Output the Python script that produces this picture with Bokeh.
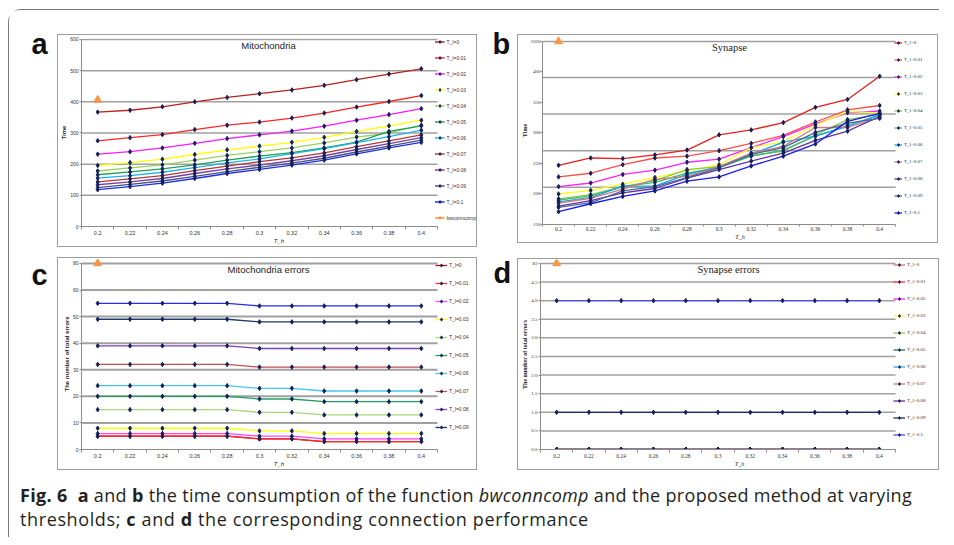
from bokeh.plotting import figure
from bokeh.models import (Legend, LegendItem, Label, FixedTicker, Range1d, Div, Spacer,
                          PrintfTickFormatter, InlineStyleSheet)
from bokeh.layouts import column, row
from bokeh.embed import file_html
from bokeh.resources import INLINE

# ---------------- data ----------------
th = [0.2, 0.22, 0.24, 0.26, 0.28, 0.3, 0.32, 0.34, 0.36, 0.38, 0.4]
th_labels = ["0.2", "0.22", "0.24", "0.26", "0.28", "0.3", "0.32", "0.34", "0.36", "0.38", "0.4"]
series_names = ["T_l=0", "T_l=0.01", "T_l=0.02", "T_l=0.03", "T_l=0.04", "T_l=0.05",
                "T_l=0.06", "T_l=0.07", "T_l=0.08", "T_l=0.09", "T_l=0.1"]

# (a) Mitochondria time
mito_time = [
    [367, 373, 384, 400, 414, 426, 438, 453, 471, 489, 506],
    [275, 285, 295, 311, 325, 335, 348, 364, 383, 401, 420],
    [232, 240, 252, 267, 282, 294, 306, 322, 341, 359, 378],
    [196, 205, 216, 231, 246, 258, 270, 286, 305, 323, 341],
    [178, 188, 198, 213, 228, 240, 252, 268, 287, 300, 325],
    [166, 175, 185, 198, 213, 226, 237, 252, 271, 305, 323],
    [155, 163, 174, 189, 204, 217, 234, 250, 269, 288, 309],
    [143, 153, 163, 179, 194, 208, 220, 236, 256, 275, 294],
    [134, 143, 154, 170, 185, 197, 211, 227, 247, 266, 285],
    [125, 135, 146, 161, 176, 190, 203, 219, 239, 258, 277],
    [118, 128, 139, 154, 170, 183, 197, 213, 233, 252, 270],
]
mito_bw_time = [406]

# (b) Synapse time
syn_time = [
    [247, 259, 258, 264, 272, 297, 305, 317, 342, 355, 393],
    [228, 234, 248, 259, 262, 271, 283, 296, 318, 338, 345],
    [212, 218, 232, 239, 252, 257, 276, 294, 315, 333, 336],
    [200, 206, 216, 227, 238, 248, 276, 286, 313, 335, 333],
    [192, 199, 212, 222, 240, 245, 263, 270, 297, 322, 331],
    [190, 197, 212, 219, 234, 243, 262, 272, 295, 312, 329],
    [187, 194, 213, 213, 232, 245, 265, 285, 295, 311, 330],
    [185, 193, 208, 224, 229, 245, 267, 278, 309, 309, 325],
    [180, 189, 202, 209, 226, 240, 254, 267, 288, 303, 327],
    [178, 186, 205, 212, 227, 243, 265, 276, 301, 316, 324],
    [171, 184, 196, 205, 221, 228, 246, 262, 282, 319, 332],
]
syn_bw_time = [1020]

# (c) Mitochondria errors
mito_err = [
    [5, 5, 5, 5, 5, 4, 4, 3, 3, 3, 3],
    [5, 5, 5, 5, 5, 4, 4, 3, 3, 3, 3],
    [6, 6, 6, 6, 6, 5, 5, 4, 4, 4, 4],
    [8, 8, 8, 8, 8, 7, 7, 6, 6, 6, 6],
    [15, 15, 15, 15, 15, 14, 14, 13, 13, 13, 13],
    [20, 20, 20, 20, 20, 19, 19, 18, 18, 18, 18],
    [24, 24, 24, 24, 24, 23, 23, 22, 22, 22, 22],
    [32, 32, 32, 32, 32, 31, 31, 31, 31, 31, 31],
    [39, 39, 39, 39, 39, 38, 38, 38, 38, 38, 38],
    [49, 49, 49, 49, 49, 48, 48, 48, 48, 48, 48],
    [55, 55, 55, 55, 55, 54, 54, 54, 54, 54, 54],
]
mito_bw_err = [80]

# (d) Synapse errors
syn_err = [
    [0] * 11, [0] * 11, [0] * 11, [0] * 11, [0] * 11, [0] * 11,
    [0] * 11, [0] * 11, [0] * 11,
    [1, 1, 1, 1, 1, 1, 1, 1, 1, 1, 1],
    [4, 4, 4, 4, 4, 4, 4, 4, 4, 4, 4],
]
syn_bw_err = [83]

# y-axis ticks (the top tick of b, c, d is a broken-axis label)
ticks_a = [0, 100, 200, 300, 400, 500, 600]
ticks_b = [150, 200, 250, 300, 350, 400, 450]
ticks_c = [0, 10, 20, 30, 40, 50, 60, 70]
ticks_d = [0, 0.5, 1, 1.5, 2, 2.5, 3, 3.5, 4, 4.5, 5]

# ---------------- styles ----------------
colors_a = ["#b8221c", "#ff2626", "#ff1aff", "#ffff00", "#9ccf5c", "#1fa05a",
            "#1cb4ea", "#b23a36", "#7a3fa6", "#44577a", "#1f2fe6"]
colors_b = ["#e8201e", "#ff4d4d", "#ff22ff", "#ffff14", "#92c842", "#38b878",
            "#12a8e8", "#d07a7a", "#6a2fa0", "#4a6a9a", "#1a1aff"]
colors_c = ["#b01010", "#ff2a2a", "#ff44ff", "#ffff00", "#a8d878", "#20a060",
            "#44c8f2", "#c05050", "#8040b0", "#20386a", "#2a2ae8"]
colors_d = ["#e07070", "#ff2a2a", "#ff22ff", "#ffff14", "#92c842", "#207a4a",
            "#22b0ea", "#d07a7a", "#6a2fa0", "#1c2f6a", "#4050f0"]
MARK = "#13215a"
BW = "#f79646"
GRID = "#a0a0a0"
AX = "#8c8c8c"
SANS = "Liberation Sans"
SERIF = "Liberation Serif"

x_lo, x_hi = th[0] - 0.01, th[-1] + 0.01
minor_x = [t - 0.01 for t in th] + [x_hi]

box_css = InlineStyleSheet(css=":host { border: 1px solid #9e9e9e; }")
frame_css = InlineStyleSheet(css=":host { border-top: 1px solid #7a7a7a; "
                                 "border-left: 1px solid #7a7a7a; border-top-left-radius: 13px; }")


def panel(width, height, mb, data_w, leg_w, data_h, top_pad, yr, yticks, yover, gticks,
          series, colors, n_leg, bw_vals, bw_leg, font, title, tsize, tx, leg_spacing,
          item_h, glyph_w, lab_w, leg_margin, ylabel, grid_w, xl_standoff, y_tick,
          yl_standoff, ya_standoff, x_minor_out=3, yfmt=None):
    # frame also holds the legend column (right) and a few px above the top tick
    x_end = x_hi + leg_w / data_w * (x_hi - x_lo)
    y_end = yr[1] + top_pad / data_h * (yr[1] - yr[0])
    p = figure(width=width, height=height, output_backend="svg", toolbar_location=None,
               x_range=Range1d(x_lo, x_end), y_range=Range1d(yr[0], y_end),
               min_border_left=mb[0], min_border_right=0,
               min_border_top=mb[1], min_border_bottom=mb[2])
    p.outline_line_color = None
    p.background_fill_color = "white"
    p.border_fill_color = "white"

    p.xaxis.ticker = FixedTicker(ticks=th, minor_ticks=minor_x)
    p.xaxis.bounds = (x_lo, x_hi)
    p.xaxis.major_label_overrides = {t: s for t, s in zip(th, th_labels)}
    p.xaxis.major_tick_out = 0
    p.xaxis.major_tick_in = 0
    p.xaxis.minor_tick_out = x_minor_out
    p.xaxis.minor_tick_in = 0
    p.yaxis.ticker = FixedTicker(ticks=yticks)
    p.yaxis.bounds = (yr[0], yr[1])
    if yfmt:
        p.yaxis.formatter = PrintfTickFormatter(format=yfmt)
    p.yaxis.major_label_overrides = yover
    p.yaxis.major_tick_out = y_tick
    p.yaxis.major_tick_in = 0
    p.yaxis.minor_tick_out = 0
    p.yaxis.minor_tick_in = 0
    for ax in (p.xaxis[0], p.yaxis[0]):
        ax.axis_line_color = AX
        ax.major_tick_line_color = AX
        ax.minor_tick_line_color = AX
        ax.major_label_text_font = font
        ax.major_label_text_color = "#333333"
        ax.axis_label_text_font = font
        ax.axis_label_text_font_size = "6px"
        ax.axis_label_text_font_style = "bold"
        ax.axis_label_text_color = "#222222"
    p.xaxis.major_label_text_font_size = "5.5px"
    p.yaxis.major_label_text_font_size = "5px"
    p.yaxis.major_label_standoff = yl_standoff
    p.yaxis.axis_label_standoff = ya_standoff
    p.xaxis.major_label_standoff = xl_standoff
    p.xaxis.axis_label_standoff = 0
    p.xaxis.axis_label = "T_h"
    p.xaxis.axis_label_text_font_style = "italic"
    p.yaxis.axis_label = ylabel

    # horizontal grid lines only across the data area (not behind the legend)
    p.grid.visible = False
    p.segment(x0=[x_lo] * len(gticks), x1=[x_hi] * len(gticks), y0=gticks, y1=gticks,
              line_color=GRID, line_width=grid_w)

    items = []
    for i, ys in enumerate(series):
        ln = p.line(th, ys, line_color=colors[i], line_width=1.3)
        sc = p.scatter(th, ys, marker="diamond", size=4.5, color=MARK)
        if i < n_leg:
            items.append(LegendItem(label=series_names[i], renderers=[ln, sc]))
    bw_y = [min(v, yr[1]) for v in bw_vals]   # broken axis: clip to top tick
    bl = p.line(th[:1], bw_y, line_color=BW, line_width=1.3)
    bs = p.scatter(th[:1], bw_y, marker="triangle", size=8, color=BW)
    if bw_leg:
        items.append(LegendItem(label="bwconncomp", renderers=[bl, bs]))

    leg = Legend(items=items, location="top_right", spacing=leg_spacing,
                 padding=0, margin=leg_margin, glyph_width=glyph_w, glyph_height=item_h,
                 label_height=item_h, label_standoff=2, label_width=lab_w,
                 label_text_font=font, label_text_font_size="5px",
                 label_text_color="#333333", border_line_color=None,
                 background_fill_alpha=0)
    p.add_layout(leg)

    p.add_layout(Label(x=tx, y=yr[1], x_units="screen", y_units="data", y_offset=-1,
                       text=title, text_font=font, text_font_size=tsize,
                       text_color="#222222", text_baseline="top", text_align="center"))
    return column(p, stylesheets=[box_css])


def letter_fig(text, w, h, x, y):
    f = figure(width=w, height=h, output_backend="svg", toolbar_location=None,
               x_range=Range1d(0, 1), y_range=Range1d(0, 1),
               x_axis_type=None, y_axis_type=None, min_border=0)
    f.outline_line_color = None
    f.grid.visible = False
    f.add_layout(Label(x=x, y=y, x_units="screen", y_units="screen", text=text,
                       text_font=SANS, text_font_style="bold", text_font_size="29px",
                       text_color="#111111", text_baseline="alphabetic", text_align="left"))
    return f


# a: box 57..477 x 34..247 (canvas inside 1px border); data 81..437, 39..229
pa = panel(418, 211, (23, 3, 17), 356, 39, 190, 1, (0, 600), ticks_a, {},
           [100, 200, 300, 400, 500, 600], mito_time, colors_a, 11, mito_bw_time, True, SANS,
           "Mitochondria", "9.5px", 187, 9, 7, 10, 29, 0, "Time", 1.5, 1, 2, 1, 0)
# b: box 517..938 x 34..243 ; data 540..895, 41..226
pb = panel(419, 207, (22, 1, 16), 355, 42, 185, 5, (150, 450), ticks_b, {450: "1020"},
           [211, 271, 331, 391, 450], syn_time, colors_b, 11, syn_bw_time, False, SERIF,
           "Synapse", "10.5px", 187, 10, 7, 8, 30, 3, "Time", 1.5, 0, 2, 0, 0, x_minor_out=2)
# c: box 57..477 x 257..470 ; data 81..437, 263..452
pc = panel(418, 211, (23, 0, 17), 356, 39, 189, 5, (0, 70), ticks_c, {70: "80"},
           [10, 20, 30, 40, 50, 60, 70], mito_err, colors_c, 10, mito_bw_err, False, SANS,
           "Mitochondria errors", "9.5px", 187, 10, 8, 12, 24, 3,
           "The number of total errors", 2, 1, 2, 1, 0)
# d: box 517..939 x 258..470 ; data 540..895, 263..452
pd_ = panel(420, 210, (22, 0, 17), 355, 43, 189, 4, (0, 5), ticks_d, {5: "83"},
            [0.5, 1, 1.5, 2, 2.5, 3, 3.5, 4, 4.5, 5], syn_err, colors_d, 11, syn_bw_err, False,
            SERIF, "Synapse errors", "10.5px", 188, 10, 7, 12, 29, 2,
            "The number of total errors", 1.5, 1, 2, 1, 0, yfmt="%.1f")

la = letter_fig("a", 48, 242, 22, 209)
lb = letter_fig("b", 29, 242, 4, 209)
lc = letter_fig("c", 48, 222, 22, 200)
ld = letter_fig("d", 29, 222, 5, 202)

row1 = row(la, column(Spacer(width=420, height=24), pa, Spacer(width=420, height=5)),
           Spacer(width=11, height=242), lb,
           column(Spacer(width=421, height=24), pb, Spacer(width=421, height=9)))
row2 = row(lc, column(Spacer(width=420, height=5), pc, Spacer(width=420, height=4)),
           Spacer(width=11, height=222), ld,
           column(Spacer(width=422, height=6), pd_, Spacer(width=422, height=4)))

caption = Div(width=919, height=53, text=(
    "<div style=\"font-family:'Open Sans',sans-serif;font-size:18px;"
    "line-height:24px;color:#231f20;margin:4px 0 0 6px;white-space:nowrap;\">"
    "<span style=\"letter-spacing:0.33px\"><b>Fig. 6</b>&nbsp;&nbsp;<b>a</b> and <b>b</b> "
    "the time consumption of the function <i>bwconncomp</i> and the proposed method at "
    "varying</span><br><span style=\"letter-spacing:0.62px\">thresholds; <b>c</b> and "
    "<b>d</b> the corresponding connection performance</span></div>"))

framed = column(row1, row2, caption, stylesheets=[frame_css])
root = row(Spacer(width=8, height=538), column(Spacer(width=930, height=9), framed))

open("out.html", "w").write(file_html(root, INLINE))
